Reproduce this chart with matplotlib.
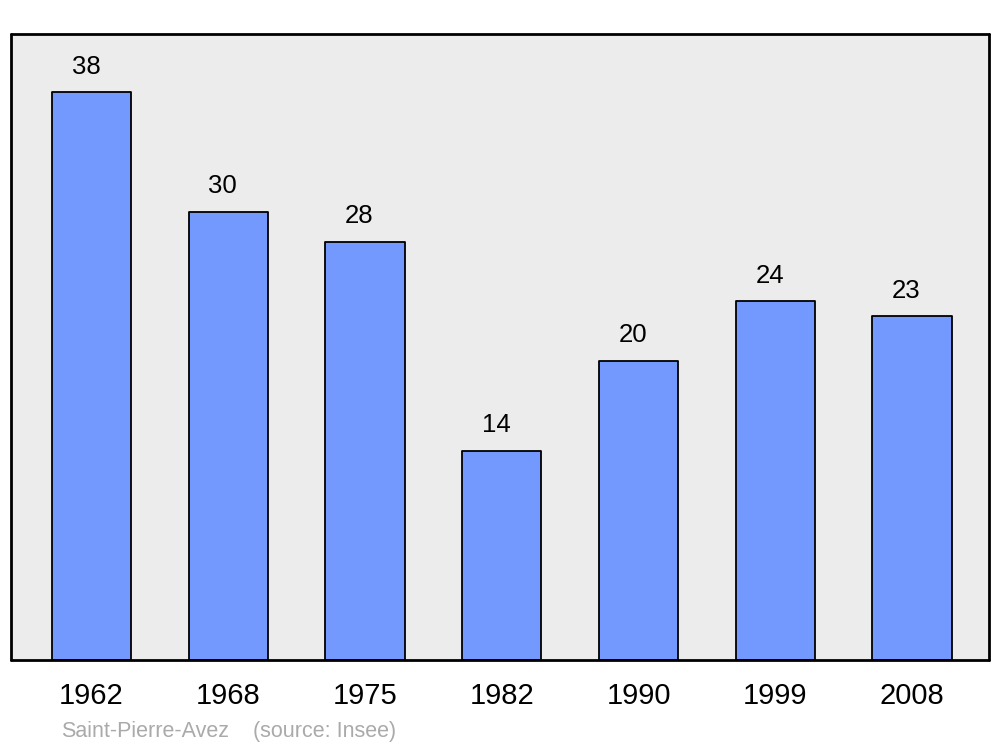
import matplotlib.pyplot as plt

plt.rcParams['font.family'] = ['Liberation Sans', 'DejaVu Sans']

years = ['1962', '1968', '1975', '1982', '1990', '1999', '2008']
population = [38, 30, 28, 14, 20, 24, 23]
commune = 'Saint-Pierre-Avez'
source = '(source: Insee)'

fig = plt.figure(figsize=(10, 7.47), dpi=100)
ax = fig.add_axes([0.011, 0.1165, 0.978, 0.838])
ax.set_facecolor('#ececec')

x = range(len(years))
bars = ax.bar(x, population, width=0.58, color='#7399ff', edgecolor='black',
              linewidth=1.3, joinstyle='round', zorder=2)

for xi, v in zip(x, population):
    ax.annotate(str(v), (xi, v), xytext=(-4, 13.5), textcoords='offset points',
                ha='center', va='baseline', fontsize=18.5)

ax.set_xlim(-0.589, 6.563)
ax.set_ylim(0, 41.9)
ax.set_xticks(list(x))
ax.set_xticklabels(years, fontsize=21)
ax.tick_params(axis='x', length=0, pad=16)
ax.set_yticks([])
for s in ax.spines.values():
    s.set_linewidth(2)
    s.set_capstyle('round')

fig.text(0.061, 0.021, commune, fontsize=15.5, color='#aaaaaa', va='center')
fig.text(0.253, 0.021, source, fontsize=15.5, color='#aaaaaa', va='center')

plt.savefig('out.png', dpi=100)
